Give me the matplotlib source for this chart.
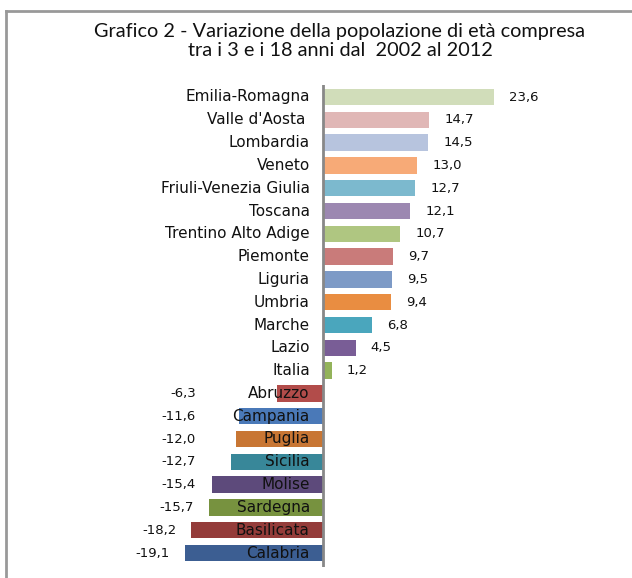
import matplotlib
matplotlib.use("Agg")
import matplotlib.pyplot as plt
from matplotlib.lines import Line2D

regions = ["Emilia-Romagna", "Valle d'Aosta ", "Lombardia", "Veneto",
           "Friuli-Venezia Giulia", "Toscana", "Trentino Alto Adige", "Piemonte",
           "Liguria", "Umbria", "Marche", "Lazio", "Italia", "Abruzzo",
           "Campania", "Puglia", "Sicilia", "Molise", "Sardegna", "Basilicata",
           "Calabria"]
values = [23.6, 14.7, 14.5, 13.0, 12.7, 12.1, 10.7, 9.7, 9.5, 9.4, 6.8, 4.5,
          1.2, -6.3, -11.6, -12.0, -12.7, -15.4, -15.7, -18.2, -19.1]
colors = ["#D1DDBA", "#E0B7B6", "#B7C4DE", "#F7AA77", "#7CB9CE", "#9C88B1",
          "#AFC681", "#C97B7A", "#7D9AC6", "#E98D41", "#4AA6BD", "#795D96",
          "#93B35A", "#B24C4A", "#4A79B8", "#C87634", "#388799", "#5D4A7B",
          "#77923F", "#943C3A", "#3C5E92"]

W, H = 632, 578
fig = plt.figure(figsize=(W / 100, H / 100), dpi=100)

# axes placed in pixel terms: zero line at x=323, first bar at y=97
px = 7.23      # pixels per unit
step = 22.8    # pixels per bar
left, right = 150, 600
top, bottom = 85, 567
ax = fig.add_axes([left / W, 1 - bottom / H, (right - left) / W, (bottom - top) / H])
ax.set_xlim((left - 323) / px, (right - 323) / px)
ax.set_ylim((bottom - 97) / step, (top - 97) / step)

ypos = list(range(len(regions)))
ax.barh(ypos, values, height=0.72, color=colors, zorder=2)
ax.axvline(0, color="#888888", lw=2, zorder=3)

for y, name, v in zip(ypos, regions, values):
    ax.annotate(name, (0, y), xytext=(-9.5, 0), textcoords="offset points",
                ha="right", va="center", fontsize=11, color="#111111", zorder=4)
    lab = f"{v:.1f}".replace(".", ",")
    if v > 0:
        ax.annotate(lab, (v, y), xytext=(11, 0), textcoords="offset points",
                    ha="left", va="center", fontsize=9.5, color="#111111")
    else:
        ax.annotate(lab, (min(v, -15.5), y), xytext=(-11, 0), textcoords="offset points",
                    ha="right", va="center", fontsize=9.5, color="#111111")

ax.axis("off")

fig.text(340 / W, 1 - 41 / H,
         "Grafico 2 - Variazione della popolazione di età compresa\ntra i 3 e i 18 anni dal  2002 al 2012",
         ha="center", va="center", fontsize=14.3, family=["Lato", "DejaVu Sans"],
         linespacing=1.2, color="#111111")

# chart frame (only top and left edges visible)
fig.add_artist(Line2D([5.5 / W, 1], [1 - 10.5 / H, 1 - 10.5 / H], color="#999999", lw=2))
fig.add_artist(Line2D([5.5 / W, 5.5 / W], [0, 1 - 10.5 / H], color="#999999", lw=2))

fig.savefig("out.png", dpi=100)
